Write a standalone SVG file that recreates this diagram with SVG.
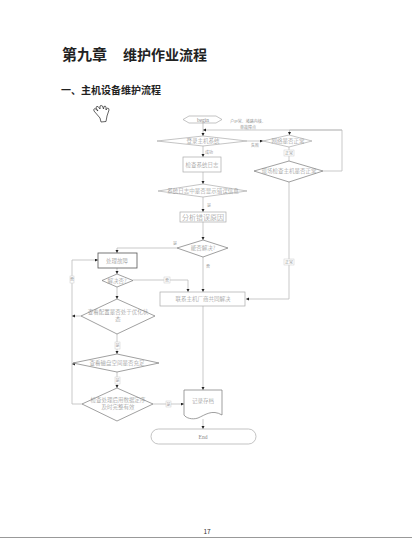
<svg xmlns="http://www.w3.org/2000/svg" width="412" height="538" viewBox="0 0 412 538">
<style>
text{font-family:"Noto Sans CJK SC","Liberation Sans",sans-serif}
.t{fill:#222;font-weight:700}
.n{fill:#fff;stroke:#aaa;stroke-width:.7}
.d{stroke:#777}
.l{font-size:5.500px;fill:#888;text-anchor:middle;font-weight:300}
.s{font-size:4px;fill:#999;text-anchor:middle}
.c{fill:none;stroke:#bbb;stroke-width:.8}
.b{fill:#fff;stroke:#ccc;stroke-width:.5}
</style>
<defs><marker id="a" markerWidth="4" markerHeight="4" refX="3" refY="1.500" orient="auto" markerUnits="userSpaceOnUse"><path d="M0,0L3,1.500L0,3z" fill="#222"/></marker></defs>
<rect width="412" height="538" fill="#fff"/>
<rect y="537" width="412" height="1" fill="#999"/>
<text class="t" x="62" y="60" font-size="15">第九章</text>
<text class="t" x="123" y="60" font-size="14">维护作业流程</text>
<text class="t" x="61" y="94" font-size="10">一、主机设备维护流程</text>
<text x="207" y="534" font-size="6.500" fill="#333" text-anchor="middle">17</text>
<path d="M100 118 L94 111 Q93 109 95 108.500 L98 111 L96 108 Q96 106 98 106.500 L100 109 L100 106 Q101 105 102.500 106 L103.500 109 L104 106.500 Q105.500 105.500 106 107 L106 110 L107.500 108 Q109 108 109 110 L107 116 L106 121.500 L101 122 Z" fill="#fff" stroke="#222" stroke-width=".7"/>
<g id="connectors" class="c">
<path class="c" d="M203 123V136" marker-end="url(#a)"/>
<path class="c" d="M342 171V130H203" marker-end="url(#a)"/>
<path class="c" d="M342 130H289.500V135" marker-end="url(#a)"/>
<path class="c" d="M247 141H263" marker-end="url(#a)"/>
<path class="c" d="M203 146V157" marker-end="url(#a)"/>
<path class="c" d="M203 172V184" marker-end="url(#a)"/>
<path class="c" d="M203 197V212" marker-end="url(#a)"/>
<path class="c" d="M203 222V240" marker-end="url(#a)"/>
<path class="c" d="M289 147V161"/>
<path class="c" d="M323 171H342"/>
<path class="c" d="M289 182V299H246" marker-end="url(#a)"/>
<path class="c" d="M177 248H117V253" marker-end="url(#a)"/>
<path class="c" d="M203 257V292" marker-end="url(#a)"/>
<path class="c" d="M117 268V274" marker-end="url(#a)"/>
<path class="c" d="M133 280H188V292" marker-end="url(#a)"/>
<path class="c" d="M117 287V299" marker-end="url(#a)"/>
<path class="c" d="M117 334V354" marker-end="url(#a)"/>
<path class="c" d="M117 372V388" marker-end="url(#a)"/>
<path class="c" d="M82 404H72V260H98" marker-end="url(#a)"/>
<path class="c" d="M81 316H72" marker-end="url(#a)"/>
<path class="c" d="M73 364H72" marker-end="url(#a)"/>
<path class="c" d="M153 404H184" marker-end="url(#a)"/>
<path class="c" d="M203 306V390" marker-end="url(#a)"/>
<path class="c" d="M203 419V429" marker-end="url(#a)"/>
</g>
<g id="begin"><path class="n" d="M183 119.500L189 116H216L222 119.500L216 123H189Z"/><text class="l" x="203" y="121.500" style="font-family:'Liberation Serif',serif">begin</text></g>
<g id="login"><path class="n" d="M157 141L203 136L247 141L203 146Z"/><text class="l" x="203" y="143">登录主机系统</text></g>
<g id="network"><path class="n" d="M263 141L289 135L312 141L289 147Z"/><text class="l" x="288" y="143">网络是否正常</text></g>
<g id="onsite"><path class="n d" d="M254 171L289 161L323 171L289 182Z"/><text class="l" x="289" y="173">现场检查主机是否正常</text></g>
<g id="syslog"><rect class="n" x="183" y="157" width="38" height="15"/><text class="l" x="202" y="166.500">检查系统日志</text></g>
<g id="errinfo"><path class="n" d="M158 191L203 184L247 191L203 197Z"/><text class="l" x="203" y="193">系统日志中是否显示错误信息</text></g>
<g id="analyse"><rect class="n" x="180" y="212" width="46" height="10"/><text class="l" x="203" y="219.500" style="font-size:7px">分析错误原因</text></g>
<g id="solved"><path class="n d" d="M177 248L203 240L228 248L203 257Z"/><text class="l" x="203" y="250">能否解决?</text></g>
<g id="vendor"><rect class="n" x="160" y="292" width="85" height="14"/><text class="l" x="203" y="301">联系主机厂商共同解决</text></g>
<g id="fix"><rect x="98" y="253" width="39" height="15" fill="#fff" stroke="#555" stroke-width=".8"/><text class="l" x="117" y="262.500">处理故障</text></g>
<g id="resolved"><path class="n d" d="M102 280.500L117 274L133 280.500L117 287Z"/><text class="l" x="117" y="282.500">解决否?</text></g>
<g id="config"><path class="n d" d="M81 316L117 299L155 316L117 334Z"/><text class="l" x="118" y="314">查看配置是否处于优化状</text><text class="l" x="118" y="321">态</text></g>
<g id="disk"><path class="n d" d="M73 363L117 354L159 363L117 372Z"/><text class="l" x="117" y="365">查看磁盘空间是否充足</text></g>
<g id="backup"><path class="n d" d="M82 404L117 388L153 404L117 421Z"/><text class="l" x="118" y="402">检查处理后用数据定序</text><text class="l" x="118" y="409">及时完整有效</text></g>
<g id="record"><path class="n d" d="M184 390H222V415C212 409 205 415 198 418C192 420 186 418 184 415Z"/><text class="l" x="203" y="403">记录存档</text></g>
<g id="end"><rect class="n" x="151" y="429" width="105" height="15" rx="7.500"/><text class="l" x="203" y="438.500" style="font-family:'Liberation Serif',serif">End</text></g>
<g id="labels">
<text class="s" x="248" y="123">户IP常、堵路内核、</text><text class="s" x="248" y="129">单故障点</text>
<text class="s" x="209" y="154">成功</text>
<text class="s" x="255" y="147">失败</text>
<text class="s" x="209" y="207">是</text>
<rect class="b" x="284" y="150" width="10" height="6"/><text class="s" x="289" y="154.500">正常</text>
<rect class="b" x="284" y="259" width="10" height="6"/><text class="s" x="289" y="263.500">正常</text>
<text class="s" x="175" y="245">是</text>
<text class="s" x="208" y="268">否</text>
<rect class="b" x="164" y="277" width="6" height="6"/><text class="s" x="167" y="281.500">否</text>
<rect class="b" x="70" y="276" width="4" height="7"/><text class="s" x="72" y="281">否</text>
<rect class="b" x="115" y="342" width="5" height="7"/><text class="s" x="117.500" y="347">是</text>
<rect class="b" x="115" y="377" width="5" height="7"/><text class="s" x="117.500" y="382">是</text>
<rect class="b" x="166" y="401" width="5" height="6"/><text class="s" x="168.500" y="405.500">是</text>
</g>
</svg>
